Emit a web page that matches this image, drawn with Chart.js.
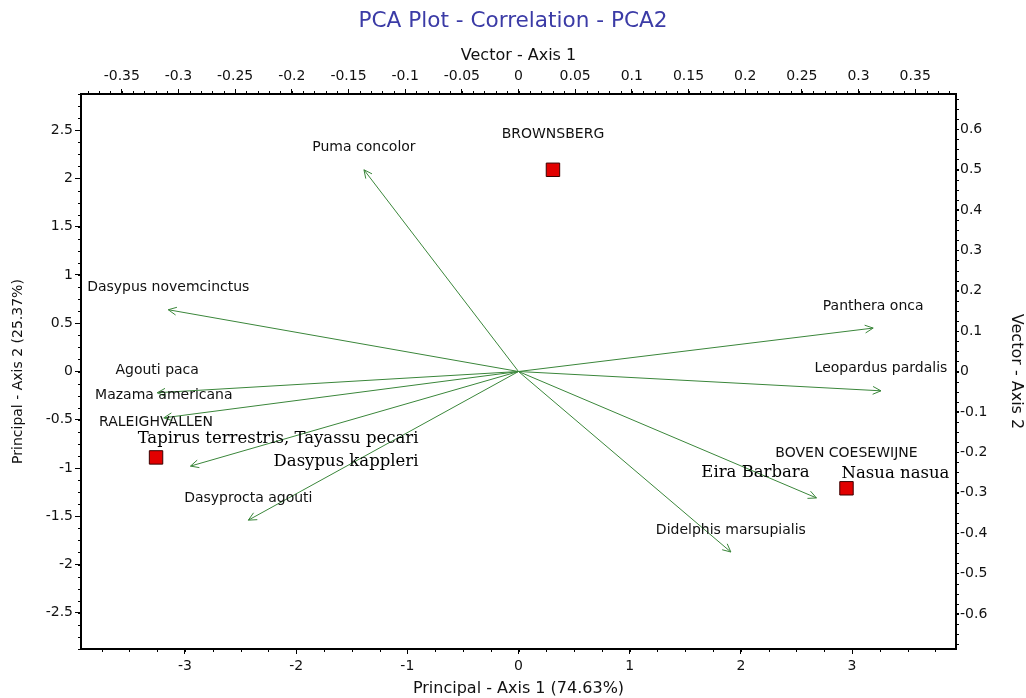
<!DOCTYPE html>
<html>
<head>
<meta charset="utf-8">
<title>PCA Plot - Correlation - PCA2</title>
<script src="https://cdn.jsdelivr.net/npm/chart.js@4.4.1/dist/chart.umd.min.js"></script>
<style>
  html, body { margin: 0; padding: 0; background: #fff; }
  #wrap { width: 1026px; height: 698px; }
</style>
</head>
<body>
<div id="wrap"><canvas id="pca"></canvas></div>
<script>
// ── Species vectors (arrow tips, principal axis units) ──────────────────
const speciesNames  = ['Puma concolor', 'Dasypus novemcinctus', 'Agouti paca', 'Mazama americana',
                       'Tapirus terrestris', 'Dasyprocta agouti', 'Panthera onca', 'Leopardus pardalis',
                       'Eira barbara', 'Didelphis marsupialis'];
// text printed next to each arrow ('' = covered in the original)
const speciesLabels = ['Puma concolor', 'Dasypus novemcinctus', 'Agouti paca', 'Mazama americana',
                       '', 'Dasyprocta agouti', 'Panthera onca', 'Leopardus pardalis',
                       '', 'Didelphis marsupialis'];
const vecX = [-1.39, -3.15, -3.25, -3.19, -2.95, -2.43, 3.19, 3.26, 2.68, 1.91];
const vecY = [ 2.09,  0.64, -0.22, -0.48, -0.98, -1.54, 0.45, -0.20, -1.31, -1.87];

// ── Sites (red squares) ─────────────────────────────────────────────────
const siteNames = ['BROWNSBERG', 'RALEIGHVALLEN', 'BOVEN COESEWIJNE'];
const siteX = [0.31, -3.26, 2.95];
const siteY = [2.09, -0.89, -1.21];

// hand-added notes on the figure
const noteTexts = ['Tapirus terrestris, Tayassu pecari', 'Dasypus kappleri', 'Eira Barbara', 'Nasua nasua'];

// ── Tick labels ─────────────────────────────────────────────────────────
const xTicks  = [-3, -2, -1, 0, 1, 2, 3];
const yTicks  = [-2.5, -2, -1.5, -1, -0.5, 0, 0.5, 1, 1.5, 2, 2.5];
const x2Ticks = [-0.35, -0.3, -0.25, -0.2, -0.15, -0.1, -0.05, 0, 0.05, 0.1, 0.15, 0.2, 0.25, 0.3, 0.35];
const y2Ticks = [-0.6, -0.5, -0.4, -0.3, -0.2, -0.1, 0, 0.1, 0.2, 0.3, 0.4, 0.5, 0.6];

// Colours / styles
const C = {
  title:  '#3b3ba6',
  text:   '#111',
  axis:   '#000',
  vector: '#3a863a',
  site:   '#e20000',
  siteBd: '#3a0000',
};
const SANS  = 'DejaVu Sans';
const SERIF = 'DejaVu Serif';

// note placement relative to an arrow tip / site (px)
const noteLayout = [
  { ref: 'vec',  i: 4, dx: 228, dy: -27, align: 'right'  },
  { ref: 'vec',  i: 4, dx: 228, dy: -4,  align: 'right'  },
  { ref: 'vec',  i: 8, dx: -61, dy: -25, align: 'center' },
  { ref: 'site', i: 2, dx: 49,  dy: -15, align: 'center' },
];

const minorStep = { x: 0.25, y: 0.125, x2: 0.01, y2: 0.025 };

function fixedTicks(list) {
  return scale => { scale.ticks = list.map(v => ({ value: v })); };
}
function fmt(v) { const r = Math.round(v * 100) / 100; return String(r === 0 ? 0 : r); }

/** arrows heads, labels, notes */
const annotate = {
  id: 'annotate',
  afterDatasetsDraw(chart) {
    const ctx = chart.ctx;
    ctx.save();
    // arrow heads
    ctx.strokeStyle = C.vector;
    ctx.lineWidth = 1;
    speciesNames.forEach((n, i) => {
      const pts = chart.getDatasetMeta(i).data;
      const a = pts[0], b = pts[1];
      const ang = Math.atan2(b.y - a.y, b.x - a.x);
      const L = 9, s = 0.45;
      ctx.beginPath();
      ctx.moveTo(b.x - L * Math.cos(ang - s), b.y - L * Math.sin(ang - s));
      ctx.lineTo(b.x, b.y);
      ctx.lineTo(b.x - L * Math.cos(ang + s), b.y - L * Math.sin(ang + s));
      ctx.stroke();
    });

    const sx = chart.scales.x, sy = chart.scales.y;
    ctx.fillStyle = C.text;
    ctx.font = `14px "${SANS}"`;
    ctx.textAlign = 'center';
    ctx.textBaseline = 'middle';
    speciesLabels.forEach((t, i) => {
      if (!t) return;
      ctx.fillText(t, sx.getPixelForValue(vecX[i]), sy.getPixelForValue(vecY[i]) - 22);
    });
    siteNames.forEach((t, i) => {
      ctx.fillText(t, sx.getPixelForValue(siteX[i]), sy.getPixelForValue(siteY[i]) - 35);
    });

    ctx.font = `16.5px "${SERIF}"`;
    ctx.fillStyle = '#000';
    noteTexts.forEach((t, k) => {
      const l = noteLayout[k];
      const px = l.ref === 'vec' ? sx.getPixelForValue(vecX[l.i]) : sx.getPixelForValue(siteX[l.i]);
      const py = l.ref === 'vec' ? sy.getPixelForValue(vecY[l.i]) : sy.getPixelForValue(siteY[l.i]);
      ctx.textAlign = l.align;
      ctx.fillText(t, px + l.dx, py + l.dy);
    });
    ctx.restore();
  },
  afterDraw(chart) {
    // minor tick marks on all four axes
    const ctx = chart.ctx;
    ctx.save();
    ctx.strokeStyle = C.axis;
    ctx.lineWidth = 1;
    Object.keys(minorStep).forEach(id => {
      const s = chart.scales[id], st = minorStep[id];
      ctx.beginPath();
      for (let v = Math.ceil(s.min / st) * st; v <= s.max + 1e-9; v += st) {
        const p = Math.round(s.getPixelForValue(v)) + 0.5;
        if (s.position === 'bottom') { ctx.moveTo(p, s.top); ctx.lineTo(p, s.top + 3); }
        if (s.position === 'top')    { ctx.moveTo(p, s.bottom); ctx.lineTo(p, s.bottom - 3); }
        if (s.position === 'left')   { ctx.moveTo(s.right, p); ctx.lineTo(s.right - 3, p); }
        if (s.position === 'right')  { ctx.moveTo(s.left, p); ctx.lineTo(s.left + 3, p); }
      }
      ctx.stroke();
    });
    ctx.restore();
  },
};

const datasets = speciesNames.map((n, i) => ({
  label: n,
  data: [{ x: 0, y: 0 }, { x: vecX[i], y: vecY[i] }],
  showLine: true,
  borderColor: C.vector,
  borderWidth: 1,
  pointRadius: 0,
  xAxisID: 'x',
  yAxisID: 'y',
}));
datasets.push({
  label: 'Sites',
  data: siteX.map((x, i) => ({ x, y: siteY[i] })),
  showLine: false,
  pointStyle: 'rect',
  pointRadius: 9.5,
  backgroundColor: C.site,
  borderColor: C.siteBd,
  borderWidth: 1,
  xAxisID: 'x',
  yAxisID: 'y',
});

const tickFont = { family: SANS, size: 14 };
const grid = len => ({ drawOnChartArea: false, drawTicks: true, tickLength: len, color: C.axis });
const border = { display: true, color: C.axis, width: 2 };

new Chart(document.getElementById('pca'), {
  type: 'scatter',
  data: { datasets },
  plugins: [annotate],
  options: {
    responsive: true,
    maintainAspectRatio: false,
    animation: false,
    layout: { padding: 0 },
    plugins: {
      legend: { display: false },
      tooltip: { enabled: false },
      title: {
        display: true,
        text: 'PCA Plot - Correlation - PCA2',
        color: C.title,
        font: { family: SANS, size: 21.6, weight: 'normal' },
        padding: { top: 8, bottom: 0 },
      },
    },
    scales: {
      x: {
        type: 'linear', position: 'bottom', min: -3.935, max: 3.935,
        afterBuildTicks: fixedTicks(xTicks),
        afterFit: s => { s.height = 49; },
        grid: grid(5), border,
        ticks: { font: tickFont, color: C.text, padding: 4, maxRotation: 0, autoSkip: false, callback: fmt },
        title: { display: true, text: 'Principal - Axis 1 (74.63%)', font: { family: SANS, size: 16 }, color: C.text, padding: { top: 0, bottom: 0 } },
      },
      y: {
        type: 'linear', position: 'left', min: -2.875, max: 2.875,
        afterBuildTicks: fixedTicks(yTicks),
        afterFit: s => { s.width = 81; },
        grid: grid(6), border,
        ticks: { font: tickFont, color: C.text, padding: 2, autoSkip: false, callback: fmt },
        title: { display: true, text: 'Principal - Axis 2 (25.37%)', font: { family: SANS, size: 14 }, color: C.text, padding: { top: 10, bottom: 0 } },
      },
      x2: {
        type: 'linear', position: 'top', min: -0.386, max: 0.386,
        afterBuildTicks: fixedTicks(x2Ticks),
        afterFit: s => { s.height = 60.1; },
        grid: grid(5), border,
        ticks: { font: tickFont, color: C.text, padding: 4, maxRotation: 0, autoSkip: false, callback: fmt },
        title: { display: true, text: 'Vector - Axis 1', font: { family: SANS, size: 16 }, color: C.text, padding: { top: 12, bottom: 0 } },
      },
      y2: {
        type: 'linear', position: 'right', min: -0.687, max: 0.687,
        afterBuildTicks: fixedTicks(y2Ticks),
        afterFit: s => { s.width = 70; },
        grid: grid(3), border,
        ticks: { font: tickFont, color: C.text, padding: 1, autoSkip: false, callback: fmt },
        title: { display: true, text: 'Vector - Axis 2', font: { family: SANS, size: 16 }, color: C.text, padding: { top: 0, bottom: 0 } },
      },
    },
  },
});
</script>
</body>
</html>
